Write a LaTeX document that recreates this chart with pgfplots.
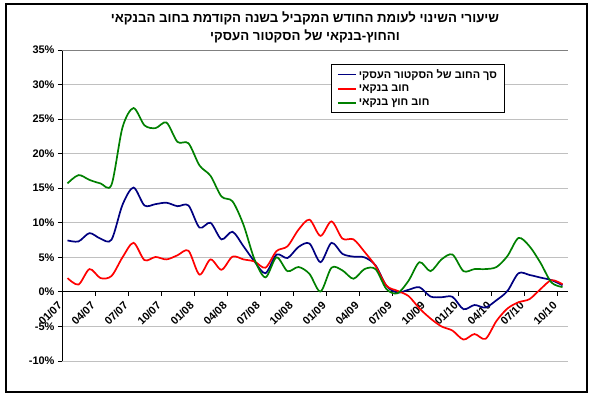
\documentclass[border=0pt]{standalone}
\usepackage{fontspec}
\setmainfont{Liberation Sans}
\newfontfamily\heb[Script=Hebrew]{Liberation Sans}
\usepackage{pgfplots}
\usepackage{pgfplotstable}
\pgfplotsset{compat=1.18}
\TeXXeTstate=1
\definecolor{navyc}{HTML}{000080}
\definecolor{redc}{HTML}{FF0000}
\definecolor{greenc}{HTML}{008000}
\definecolor{gridc}{HTML}{C0C0C0}
\definecolor{framec}{HTML}{808080}

\pgfplotstableread{
i navy red green
0 7.45 2.0 15.7
1 7.3 1.06 16.9
2 8.5 3.3 16.2
3 7.7 2.0 15.7
4 7.55 2.3 15.5
5 12.6 5.0 23.8
6 15.1 7.1 26.6
7 12.5 4.6 24.1
8 12.7 5.05 23.7
9 12.9 4.7 24.5
10 12.4 5.3 21.7
11 12.5 5.95 21.5
12 9.3 2.5 18.3
13 10.0 4.7 16.8
14 7.6 3.2 13.8
15 8.7 5.1 13.1
16 6.6 4.7 9.7
17 4.4 4.4 4.7
18 2.7 3.5 2.1
19 5.4 5.9 5.0
20 4.9 6.6 3.0
21 6.5 9.0 3.6
22 7.0 10.45 2.6
23 4.3 8.1 0.05
24 7.1 10.2 3.5
25 5.5 7.7 3.1
26 5.1 7.6 1.9
27 5.0 5.8 3.3
28 3.85 3.75 3.3
29 0.87 0.9 0.4
30 -0.1 0.15 -0.2
31 0.3 -0.6 1.6
32 0.67 -2.4 4.3
33 -0.67 -3.85 3.0
34 -0.77 -5.0 4.7
35 -0.72 -5.6 5.4
36 -2.5 -6.9 3.0
37 -1.9 -6.1 3.3
38 -2.26 -6.8 3.3
39 -1.2 -4.2 3.6
40 0.14 -2.4 5.2
41 2.7 -1.5 7.8
42 2.45 -1.05 6.6
43 2.07 0.4 4.2
44 1.7 1.7 1.35
45 0.96 1.1 0.7
}\data

\begin{document}
\begin{tikzpicture}[x=1bp,y=1bp]
\useasboundingbox (0bp,0bp) rectangle (601bp,395bp);
\draw[line width=1.2bp] (6bp,3bp) rectangle (587bp,391bp);
\node[font=\heb\bfseries\fontsize{13.3}{15}\selectfont] at (305bp,377bp) {\beginR שיעורי השינוי לעומת החודש המקביל בשנה הקודמת בחוב הבנקאי\endR};
\node[font=\heb\bfseries\fontsize{13.3}{15}\selectfont] at (305bp,359bp) {\beginR והחוץ-בנקאי של הסקטור העסקי\endR};
\begin{axis}[
  at={(62bp,34bp)}, anchor=south west, scale only axis,
  width=506bp, height=311bp,
  xmin=-0.5, xmax=45.5, ymin=-10, ymax=35,
  enlargelimits=false,
  axis x line=middle, axis y line=left,
  x axis line style={-, black, line width=0.8bp},
  y axis line style={-, black, line width=0.8bp},
  hide obscured x ticks=false, hide obscured y ticks=false,
  xtick={-0.5,2.5,...,44.5},
  xticklabels={01/07,04/07,07/07,10/07,01/08,04/08,07/08,10/08,01/09,04/09,07/09,10/09,01/10,04/10,07/10,10/10},
  ytick={-10,-5,...,35},
  yticklabels={-10\%,-5\%,0\%,5\%,10\%,15\%,20\%,25\%,30\%,35\%},
  tick align=outside,
  major tick length=4bp,
  tick style={black, line width=0.8bp},
  ticklabel style={font=\bfseries\fontsize{11}{13}\selectfont},
  xticklabel style={xshift=-5bp, yshift=0bp, rotate=45, anchor=north east},
  ymajorgrids, grid style={gridc, line width=0.8bp},
  legend style={at={(rel axis cs:0.532,0.955)}, anchor=north west, draw=black, line width=0.8bp, fill=white,
    font=\heb\bfseries\fontsize{11}{13}\selectfont, cells={anchor=west}, row sep=1.5bp, inner xsep=5.5bp, inner ysep=3bp},
  legend image code/.code={\draw[#1, line width=1.8bp] (0bp,0bp) -- (18bp,0bp);},
]
\draw[framec, line width=0.8bp] (rel axis cs:0,1) -- (rel axis cs:1,1) -- (rel axis cs:1,0) -- (rel axis cs:0,0);
\addplot[navyc, line width=1.7bp, smooth, tension=0.5] table[x=i, y=navy] {\data};
\addlegendentry{\heb\bfseries\beginR סך החוב של הסקטור העסקי\endR}
\addplot[redc, line width=1.7bp, smooth, tension=0.5] table[x=i, y=red] {\data};
\addlegendentry{\heb\bfseries\beginR חוב בנקאי\endR}
\addplot[greenc, line width=1.7bp, smooth, tension=0.5] table[x=i, y=green] {\data};
\addlegendentry{\heb\bfseries\beginR חוב חוץ בנקאי\endR}
\end{axis}
\end{tikzpicture}
\end{document}
